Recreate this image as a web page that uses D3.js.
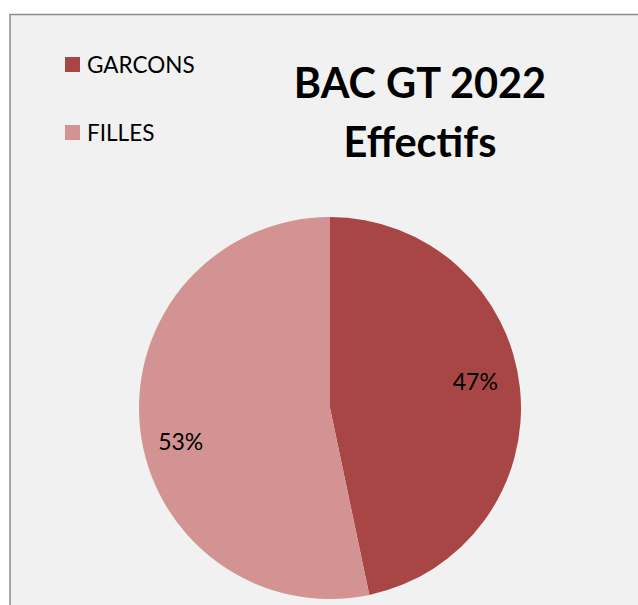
<!DOCTYPE html>
<html><head><meta charset="utf-8">
<script src="https://cdn.jsdelivr.net/npm/d3@7"></script>
<style>html,body{margin:0;padding:0;background:#fff;}svg{display:block;}</style>
</head><body>
<script>
const categories = ["GARCONS", "FILLES"];
const values = [46.7, 53.3];
const labels = ["47%", "53%"];
const colors = ["#a84646", "#d39393"];
const titleLines = ["BAC GT 2022", "Effectifs"];

const W = 638, H = 605;
const svg = d3.select("body").append("svg").attr("width", W).attr("height", H);
svg.append("rect").attr("x", 10).attr("y", 14.5).attr("width", 640).attr("height", 600)
  .attr("fill", "#f1f1f1").attr("stroke", "#8c8c8c").attr("stroke-width", 1.5);

const cx = 330, cy = 408, r = 191;
const pie = d3.pie().sort(null).value(d => d)(values);
const arc = d3.arc().innerRadius(0).outerRadius(r);
const g = svg.append("g").attr("transform", `translate(${cx},${cy})`);
g.selectAll("path").data(pie).join("path").attr("d", arc).attr("fill", (d, i) => colors[i]);
const labelArc = d3.arc().innerRadius(r * 0.77).outerRadius(r * 0.77);
const nudge = [[-1, -12], [-3, 18]];
g.selectAll("text").data(pie).join("text")
  .attr("transform", (d, i) => {
    const c = labelArc.centroid(d);
    return `translate(${c[0] + nudge[i][0]},${c[1] + nudge[i][1]})`;
  })
  .attr("text-anchor", "middle").attr("dominant-baseline", "central")
  .attr("font-family", "Lato, sans-serif").attr("font-size", 23).attr("fill", "#000")
  .text((d, i) => labels[i]);

const title = svg.append("text").attr("text-anchor", "middle")
  .attr("font-family", "Lato, sans-serif").attr("font-weight", "bold").attr("font-size", 41.5).attr("fill", "#000");
title.selectAll("tspan").data(titleLines).join("tspan")
  .attr("x", 420).attr("y", (d, i) => 98 + i * 59).text(d => d);

const leg = svg.append("g").selectAll("g").data(categories).join("g")
  .attr("transform", (d, i) => `translate(65,${57 + i * 68})`);
leg.append("rect").attr("width", 15).attr("height", 15).attr("fill", (d, i) => colors[i]);
leg.append("text").attr("x", 22).attr("y", 15.5).attr("font-family", "Lato, sans-serif")
  .attr("font-size", 22.5).attr("fill", "#000").text(d => d);
</script>
</body></html>
